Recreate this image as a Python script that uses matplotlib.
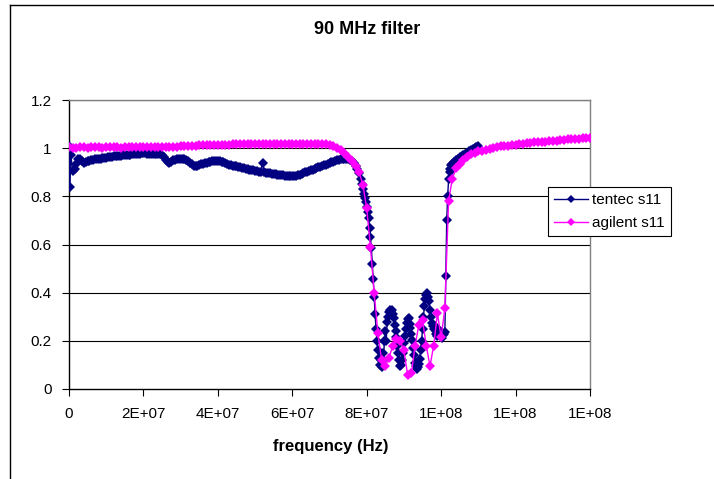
import matplotlib
matplotlib.use("Agg")
import matplotlib.pyplot as plt
from matplotlib.lines import Line2D

# ---------------- data (frequency in MHz, |S11|) ----------------
tentec_mhz = [
    0.0, 0.25, 0.5, 1.0, 1.5, 2.0, 2.5, 3.0, 3.5, 4.0, 4.5, 5.0, 5.5, 6.0, 6.5, 7.0, 7.5, 8.0, 8.5, 9.0,
    9.5, 10.0, 10.5, 11.0, 11.5, 12.0, 12.5, 13.0, 13.5, 14.0, 14.5, 15.0, 15.5, 16.0, 16.5, 17.0, 17.5, 18.0, 18.5, 19.0,
    19.5, 20.0, 20.5, 21.0, 21.5, 22.0, 22.5, 23.0, 23.5, 24.0, 24.5, 25.0, 25.5, 26.0, 26.5, 27.0, 27.5, 28.0, 28.5, 29.0,
    29.5, 30.0, 30.5, 31.0, 31.5, 32.0, 32.5, 33.0, 33.5, 34.0, 34.5, 35.0, 35.5, 36.0, 36.5, 37.0, 37.5, 38.0, 38.5, 39.0,
    39.5, 40.0, 40.5, 41.0, 41.5, 42.0, 42.5, 43.0, 43.5, 44.0, 44.5, 45.0, 45.5, 46.0, 46.5, 47.0, 47.5, 48.0, 48.5, 49.0,
    49.5, 50.0, 50.5, 51.0, 51.5, 52.0, 52.5, 53.0, 53.5, 54.0, 54.5, 55.0, 55.5, 56.0, 56.5, 57.0, 57.5, 58.0, 58.5, 59.0,
    59.5, 60.0, 60.5, 61.0, 61.5, 62.0, 62.5, 63.0, 63.5, 64.0, 64.5, 65.0, 65.5, 66.0, 66.5, 67.0, 67.5, 68.0, 68.5, 69.0,
    69.5, 70.0, 70.5, 71.0, 71.5, 72.0, 72.5, 73.0, 73.5, 74.0, 74.5, 75.0, 75.5, 76.0, 76.5, 77.0, 77.5, 78.0, 78.5,
    78.75, 79.0, 79.25, 79.5, 79.75, 80.0, 80.25, 80.5, 80.75, 81.0, 81.25, 81.5, 81.75, 82.0, 82.25, 82.5, 82.75, 83.0,
    83.25, 83.5, 83.75, 84.0, 84.25, 84.5, 84.75, 85.0, 85.25, 85.5, 85.75, 86.0, 86.25, 86.5, 86.75, 87.0, 87.25, 87.5,
    87.75, 88.0, 88.25, 88.5, 88.75, 89.0, 89.25, 89.5, 89.75, 90.0, 90.25, 90.5, 90.75, 91.0, 91.25, 91.5, 91.75, 92.0,
    92.25, 92.5, 92.75, 93.0, 93.25, 93.5, 93.75, 94.0, 94.25, 94.5, 94.75, 95.0, 95.25, 95.5, 95.75, 96.0, 96.25, 96.5,
    96.75, 97.0, 97.25, 97.5, 97.75, 98.0, 98.25, 98.5, 98.75, 99.0, 99.25, 99.5, 99.75, 100.0, 100.25, 100.5, 100.75, 101.0,
    101.25, 101.5, 101.75, 102.0, 102.25, 102.5, 102.75, 103.0,
    103.5, 104.0, 104.5, 105.0, 105.5, 106.0, 106.5, 107.0, 107.5, 108.0, 108.5, 109.0, 109.5, 110.0,
]
tentec_s11 = [
    1.01, 0.84, 0.97, 0.905, 0.915, 0.935, 0.955, 0.955, 0.945, 0.94, 0.942, 0.945, 0.948, 0.95, 0.952, 0.953, 0.954, 0.955, 0.957, 0.958,
    0.96, 0.961, 0.962, 0.964, 0.965, 0.966, 0.967, 0.967, 0.968, 0.969, 0.97, 0.97, 0.971, 0.972, 0.973, 0.974, 0.975, 0.976, 0.977, 0.977,
    0.978, 0.978, 0.978, 0.977, 0.977, 0.976, 0.976, 0.976, 0.975, 0.975, 0.974, 0.97, 0.962, 0.952, 0.942, 0.937, 0.943, 0.95, 0.952, 0.954,
    0.956, 0.957, 0.957, 0.955, 0.952, 0.947, 0.94, 0.933, 0.927, 0.925, 0.926, 0.93, 0.934, 0.936, 0.937, 0.939, 0.941, 0.943, 0.945, 0.946,
    0.947, 0.947, 0.946, 0.944, 0.941, 0.938, 0.935, 0.932, 0.93, 0.928, 0.926, 0.924, 0.922, 0.92, 0.918, 0.916, 0.914, 0.912, 0.911, 0.909,
    0.908, 0.906, 0.905, 0.903, 0.902, 0.94, 0.9, 0.898, 0.897, 0.895, 0.894, 0.892, 0.891, 0.89, 0.889, 0.888, 0.887, 0.886, 0.885, 0.884,
    0.884, 0.884, 0.885, 0.886, 0.888, 0.89, 0.893, 0.896, 0.899, 0.902, 0.905, 0.908, 0.911, 0.914, 0.917, 0.92, 0.923, 0.926, 0.929, 0.932,
    0.935, 0.938, 0.941, 0.944, 0.947, 0.95, 0.952, 0.954, 0.956, 0.957, 0.957, 0.955, 0.951, 0.945, 0.938, 0.928, 0.915, 0.895, 0.87,
    0.85, 0.83, 0.81, 0.795, 0.775, 0.755, 0.735, 0.71, 0.67, 0.632, 0.584, 0.52, 0.455, 0.38, 0.31, 0.25, 0.2, 0.16,
    0.13, 0.10, 0.12, 0.09, 0.15, 0.12, 0.2, 0.24, 0.2, 0.28, 0.3, 0.32, 0.33, 0.325, 0.33, 0.31, 0.295, 0.265,
    0.24, 0.215, 0.18, 0.15, 0.12, 0.095, 0.1, 0.12, 0.15, 0.19, 0.22, 0.25, 0.275, 0.29, 0.295, 0.27, 0.255, 0.23,
    0.205, 0.17, 0.14, 0.11, 0.095, 0.085, 0.09, 0.105, 0.125, 0.16, 0.2, 0.25, 0.3, 0.345, 0.375, 0.39, 0.4, 0.38,
    0.365, 0.33, 0.3, 0.275, 0.26, 0.25, 0.26, 0.24, 0.23, 0.22, 0.235, 0.245, 0.24, 0.23, 0.21, 0.225, 0.23, 0.235,
    0.47, 0.7, 0.8, 0.87, 0.9, 0.915, 0.93, 0.935,
    0.943, 0.95, 0.956, 0.962, 0.967, 0.972, 0.977, 0.982, 0.987, 0.992, 0.997, 1.002, 1.006, 1.01,
]

agilent_mhz = [
    0, 1, 2, 3, 4, 5, 6, 7, 8, 9, 10, 11, 12, 13, 14, 15, 16, 17, 18, 19,
    20, 21, 22, 23, 24, 25, 26, 27, 28, 29, 30, 31, 32, 33, 34, 35, 36, 37, 38, 39,
    40, 41, 42, 43, 44, 45, 46, 47, 48, 49, 50, 51, 52, 53, 54, 55, 56, 57, 58, 59,
    60, 61, 62, 63, 64, 65, 66, 67, 68, 69, 70, 71, 72, 73, 74, 75, 76, 77, 78, 79,
    80, 81, 82, 83, 84, 85, 86, 87, 88, 89, 90, 91, 92, 93, 94, 95, 96, 97, 98, 99,
    100, 101, 102, 103, 104, 105, 106, 107, 108, 109, 110, 111, 112, 113, 114, 115, 116, 117, 118, 119,
    120, 121, 122, 123, 124, 125, 126, 127, 128, 129, 130, 131, 132, 133, 134, 135, 136, 137, 138, 139,
    140,
]
agilent_s11 = [
    1.005, 1.002, 1.002, 1.003, 1.003, 1.002, 1.003, 1.003, 1.003, 1.002, 1.003, 1.003, 1.003, 1.003, 1.002, 1.003, 1.003, 1.003, 1.003, 1.003,
    1.003, 1.003, 1.003, 1.003, 1.003, 1.004, 1.004, 1.004, 1.005, 1.006, 1.007, 1.008, 1.009, 1.01, 1.011, 1.012, 1.012, 1.013, 1.013, 1.014,
    1.014, 1.015, 1.015, 1.015, 1.016, 1.016, 1.016, 1.017, 1.017, 1.017, 1.017, 1.018, 1.018, 1.018, 1.018, 1.018, 1.018, 1.018, 1.018, 1.018,
    1.018, 1.018, 1.018, 1.018, 1.018, 1.018, 1.018, 1.018, 1.018, 1.017, 1.014, 1.009, 1.002, 0.992, 0.98, 0.965, 0.945, 0.925, 0.9, 0.845,
    0.75, 0.59, 0.4, 0.233, 0.12, 0.095, 0.13, 0.18, 0.206, 0.2, 0.16, 0.058, 0.065, 0.18, 0.265, 0.286, 0.18, 0.095, 0.18, 0.314,
    0.214, 0.335, 0.78, 0.874, 0.916, 0.935, 0.95, 0.965, 0.975, 0.982, 0.987, 0.99, 0.994, 0.997, 1.0, 1.004, 1.007, 1.009, 1.011, 1.013,
    1.015, 1.017, 1.019, 1.02, 1.022, 1.024, 1.025, 1.026, 1.027, 1.029, 1.03, 1.031, 1.033, 1.034, 1.036, 1.037, 1.039, 1.04, 1.042, 1.043,
    1.044,
]

x_tick_values = [0, 2e7, 4e7, 6e7, 8e7, 1e8, 1.2e8, 1.4e8]
x_tick_labels = ["0", "2E+07", "4E+07", "6E+07", "8E+07", "1E+08", "1E+08", "1E+08"]
y_tick_values = [0, 0.2, 0.4, 0.6, 0.8, 1.0, 1.2]
y_tick_labels = ["0", "0.2", "0.4", "0.6", "0.8", "1", "1.2"]

title = "90 MHz filter"
x_label = "frequency (Hz)"
series_names = ["tentec s11", "agilent s11"]

# ---------------- drawing ----------------
plt.rcParams["font.family"] = ["Liberation Sans", "DejaVu Sans"]

W, H = 714, 479
fig = plt.figure(figsize=(W / 100, H / 100), dpi=100)
fig.patch.set_facecolor("white")

# outer chart border (extends past right/bottom of image)
fig.add_artist(Line2D([9.5 / W, 9.5 / W], [0, 1 - 4.5 / H], color="black", lw=1.0))
fig.add_artist(Line2D([9.5 / W, 1], [1 - 4.5 / H, 1 - 4.5 / H], color="black", lw=1.0))

ax = fig.add_axes([69 / W, (H - 389) / H, 521 / W, 289 / H])
ax.set_xlim(0, 1.4e8)
ax.set_ylim(0, 1.2)

for yv in y_tick_values[1:]:
    ax.axhline(yv, color="black", lw=0.8, zorder=1)

t_hz = [f * 1e6 for f in tentec_mhz]
a_hz = [f * 1e6 for f in agilent_mhz]

ax.plot(t_hz, tentec_s11, color="#000080", lw=1.0, marker="D", markersize=4.8,
        markeredgewidth=0, label=series_names[0], zorder=3)
ax.plot(a_hz, agilent_s11, color="#FF00FF", lw=1.0, marker="D", markersize=4.8,
        markeredgewidth=0, label=series_names[1], zorder=4)

ax.set_xticks(x_tick_values)
ax.set_xticklabels(x_tick_labels)
ax.set_yticks(y_tick_values)
ax.set_yticklabels(y_tick_labels)
ax.tick_params(axis="both", direction="out", length=5, width=0.8, color="black",
               labelsize=11)
ax.tick_params(axis="x", pad=8)
ax.tick_params(axis="y", pad=7.5)

for s in ["left", "bottom"]:
    ax.spines[s].set_color("black")
    ax.spines[s].set_linewidth(1.0)
for s in ["top", "right"]:
    ax.spines[s].set_color("#808080")
    ax.spines[s].set_linewidth(1.0)

fig.text(367 / W, 1 - 30 / H, title, ha="center", va="center", fontsize=13, fontweight="bold")
fig.text(331 / W, 1 - 446 / H, x_label, ha="center", va="center", fontsize=12, fontweight="bold")

leg = ax.legend(loc="upper left", bbox_to_anchor=(548 / W, 1 - 187 / H), bbox_transform=fig.transFigure,
                frameon=True, fancybox=False, shadow=False, fontsize=11, handlelength=2.2,
                borderpad=0.4, labelspacing=0.6, handletextpad=0.3, borderaxespad=0, markerscale=0.9)
leg.get_frame().set_edgecolor("black")
leg.get_frame().set_linewidth(0.8)
leg.get_frame().set_alpha(1)

fig.savefig("out.png", dpi=100, facecolor="white")
